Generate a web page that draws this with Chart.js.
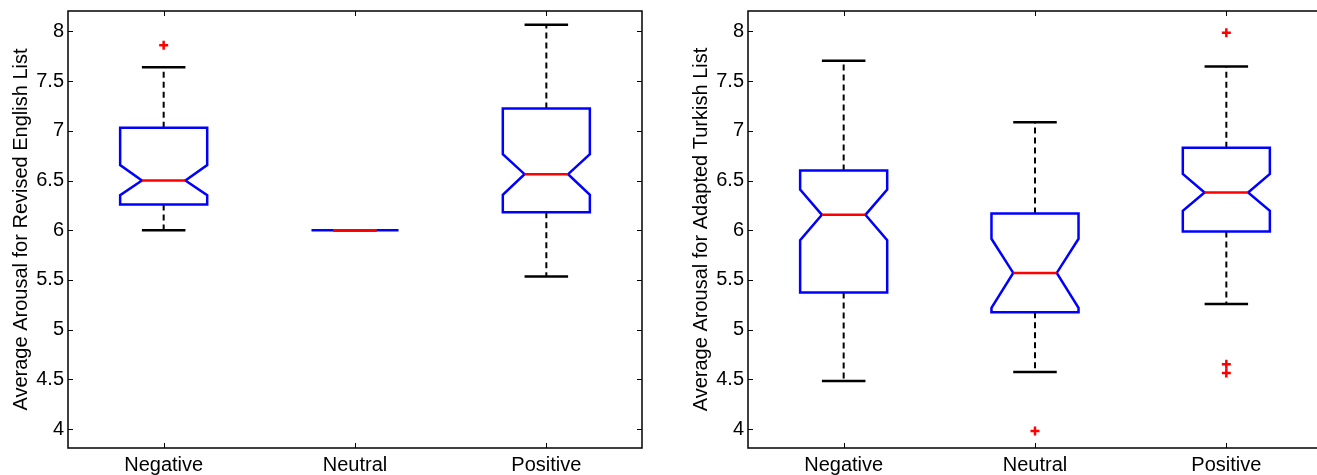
<!DOCTYPE html>
<html>
<head>
<meta charset="utf-8">
<script src="https://cdn.jsdelivr.net/npm/chart.js@4.4.1/dist/chart.umd.min.js"></script>
<style>
  html, body { margin: 0; padding: 0; background: #fff; overflow: hidden; width: 1317px; height: 475px; }
  .painel { position: absolute; top: 0; width: 660px; height: 475px; }
</style>
</head>
<body>
<div class="painel" style="left:0"><canvas id="graficoIngles" width="660" height="475"></canvas></div>
<div class="painel" style="left:680px"><canvas id="graficoTurco" width="660" height="475"></canvas></div>
<script>
const categorias = ['Negative', 'Neutral', 'Positive'];
const yTicks = [4, 4.5, 5, 5.5, 6, 6.5, 7, 7.5, 8];

// Revised English list
const ingWhiskHi = [7.64, 6.0, 8.067];
const ingQ3      = [7.03, 6.0, 7.225];
const ingNotchHi = [6.655, 6.0, 6.766];
const ingMediana = [6.50, 6.0, 6.564];
const ingNotchLo = [6.353, 6.0, 6.356];
const ingQ1      = [6.26, 6.0, 6.18];
const ingWhiskLo = [6.00, 6.0, 5.535];
const ingOutliers = [[7.86], [], []];

// Adapted Turkish list
const turWhiskHi = [7.704, 7.087, 7.648];
const turQ3      = [6.60, 6.169, 6.829];
const turNotchHi = [6.41, 5.914, 6.567];
const turMediana = [6.155, 5.571, 6.38];
const turNotchLo = [5.90, 5.219, 6.195];
const turQ1      = [5.374, 5.176, 5.988];
const turWhiskLo = [4.485, 4.575, 5.257];
const turOutliers = [[], [3.98], [7.986, 4.653, 4.565]];

const FONTE = "'Liberation Sans', Arial, sans-serif";
const MEIA = 0.2275; // meia largura da caixa (unidades de categoria)

function gap(x) { return { x: x, y: null }; }

function montarDatasets(whiskHi, q3, nHi, med, nLo, q1, whiskLo, outliers) {
    const caixa = [], mediana = [], bigode = [], tampa = [], pontos = [];
    categorias.forEach((c, k) => {
        const x = k + 1, w = MEIA, wi = MEIA / 2;
        caixa.push(
            { x: x - w, y: q3[k] }, { x: x + w, y: q3[k] }, { x: x + w, y: nHi[k] },
            { x: x + wi, y: med[k] }, { x: x + w, y: nLo[k] }, { x: x + w, y: q1[k] },
            { x: x - w, y: q1[k] }, { x: x - w, y: nLo[k] }, { x: x - wi, y: med[k] },
            { x: x - w, y: nHi[k] }, { x: x - w, y: q3[k] }, { x: x + w, y: q3[k] }, gap(x)
        );
        mediana.push({ x: x - wi, y: med[k] }, { x: x + wi, y: med[k] }, gap(x));
        bigode.push({ x: x, y: q3[k] }, { x: x, y: whiskHi[k] }, gap(x),
                    { x: x, y: q1[k] }, { x: x, y: whiskLo[k] }, gap(x));
        tampa.push({ x: x - wi, y: whiskHi[k] }, { x: x + wi, y: whiskHi[k] }, gap(x),
                   { x: x - wi, y: whiskLo[k] }, { x: x + wi, y: whiskLo[k] }, gap(x));
        outliers[k].forEach(v => pontos.push({ x: x, y: v }));
    });
    const linha = { showLine: true, pointRadius: 0, tension: 0, spanGaps: false,
                    borderCapStyle: 'butt', borderJoinStyle: 'miter' };
    // indice 0 e desenhado por cima
    return [
        { data: pontos, showLine: false, pointStyle: 'cross', pointRadius: 4.5,
          borderColor: '#ff0000', backgroundColor: '#ff0000', borderWidth: 2.5 },
        { ...linha, data: mediana, borderColor: '#ff0000', borderWidth: 2.5 },
        { ...linha, data: caixa, borderColor: '#0000ff', borderWidth: 2.5 },
        { ...linha, data: tampa, borderColor: '#000000', borderWidth: 2.5 },
        { ...linha, data: bigode, borderColor: '#000000', borderWidth: 2, borderDash: [6, 4] }
    ];
}

const moldura = {
    id: 'moldura',
    afterDraw(chart) {
        const { ctx, chartArea: a, scales: { x, y } } = chart;
        ctx.save();
        ctx.strokeStyle = '#000';
        ctx.lineWidth = 1;
        ctx.beginPath();
        y.ticks.forEach(t => {
            const py = Math.round(y.getPixelForValue(t.value)) + 0.5;
            ctx.moveTo(a.left, py); ctx.lineTo(a.left + 5, py);
            ctx.moveTo(a.right, py); ctx.lineTo(a.right - 5, py);
        });
        x.ticks.forEach(t => {
            const px = Math.round(x.getPixelForValue(t.value)) + 0.5;
            ctx.moveTo(px, a.bottom); ctx.lineTo(px, a.bottom - 5);
            ctx.moveTo(px, a.top); ctx.lineTo(px, a.top + 5);
        });
        ctx.stroke();
        ctx.lineWidth = 1.5;
        ctx.strokeRect(a.left, a.top, a.right - a.left, a.bottom - a.top);
        ctx.restore();
    }
};

function renderizarBoxplot(id, titulo, datasets) {
    const ctx = document.getElementById(id).getContext('2d');
    return new Chart(ctx, {
        type: 'scatter',
        data: { datasets: datasets },
        plugins: [moldura],
        options: {
            responsive: false,
            animation: false,
            devicePixelRatio: 1,
            events: [],
            layout: { padding: { top: 11, right: 18, left: 0, bottom: 0 } },
            plugins: { legend: { display: false }, tooltip: { enabled: false } },
            scales: {
                x: {
                    type: 'linear', min: 0.5, max: 3.5,
                    grid: { display: false, drawTicks: false },
                    border: { display: false },
                    afterBuildTicks: s => { s.ticks = categorias.map((c, i) => ({ value: i + 1 })); },
                    afterFit: s => { s.height = 27; s.paddingLeft = 0; s.paddingRight = 0; },
                    ticks: { color: '#000', padding: 5, maxRotation: 0, autoSkip: false,
                             font: { family: FONTE, size: 20 },
                             callback: v => categorias[v - 1] }
                },
                y: {
                    type: 'linear', min: 3.81, max: 8.205,
                    grid: { display: false, drawTicks: false },
                    border: { display: false },
                    afterBuildTicks: s => { s.ticks = yTicks.map(v => ({ value: v })); },
                    afterFit: s => { s.width = 68; s.paddingTop = 0; s.paddingBottom = 0; },
                    title: { display: true, text: titulo, color: '#000',
                             padding: { top: 9, bottom: 0 },
                             font: { family: FONTE, size: 20 } },
                    ticks: { color: '#000', padding: 4, autoSkip: false,
                             font: { family: FONTE, size: 20 },
                             callback: v => String(v) }
                }
            }
        }
    });
}

renderizarBoxplot('graficoIngles', 'Average Arousal for Revised English List',
    montarDatasets(ingWhiskHi, ingQ3, ingNotchHi, ingMediana, ingNotchLo, ingQ1, ingWhiskLo, ingOutliers));
renderizarBoxplot('graficoTurco', 'Average Arousal for Adapted Turkish List',
    montarDatasets(turWhiskHi, turQ3, turNotchHi, turMediana, turNotchLo, turQ1, turWhiskLo, turOutliers));
</script>
</body>
</html>
